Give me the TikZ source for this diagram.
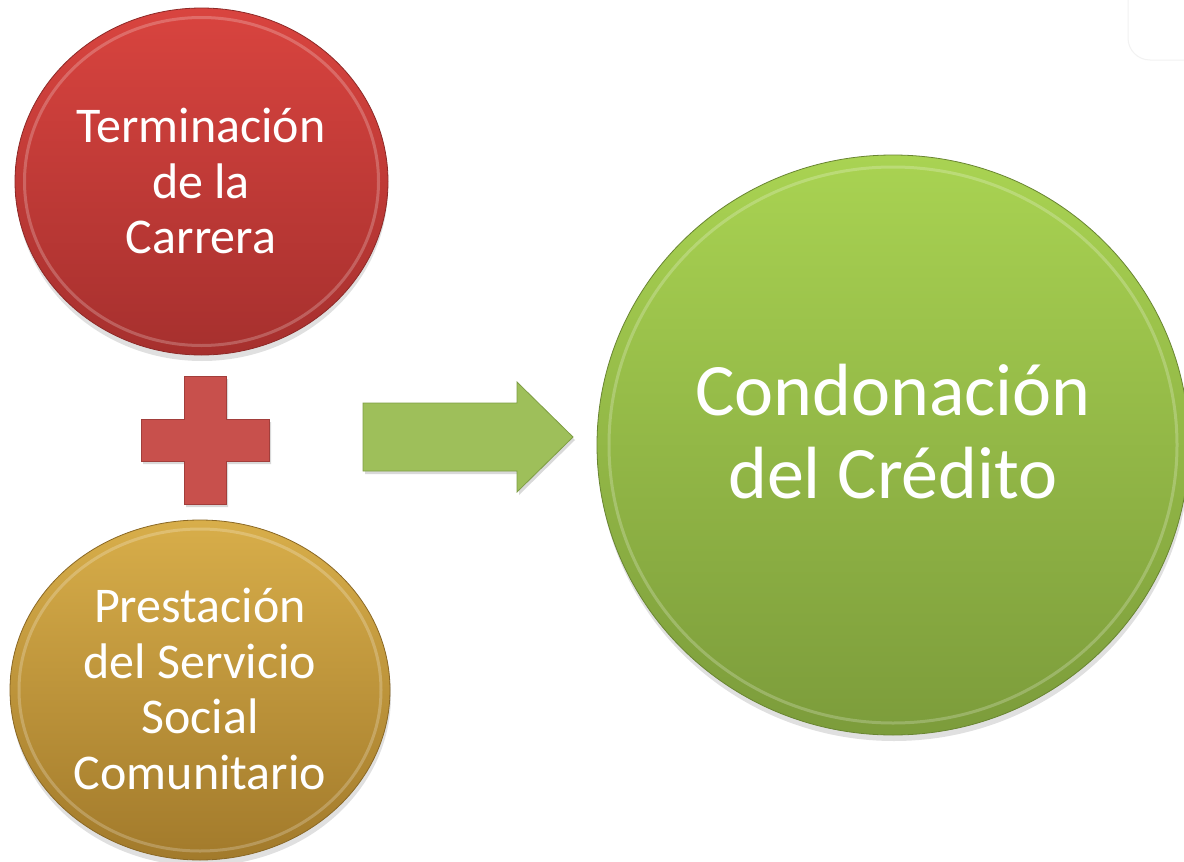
\documentclass[tikz,border=0pt]{standalone}
\usepackage{fontspec}
\setmainfont{Carlito}
\usetikzlibrary{shapes.geometric}
\definecolor{redTop}{HTML}{D9443F}
\definecolor{redBot}{HTML}{A6302E}
\definecolor{goldTop}{HTML}{D8AE4A}
\definecolor{goldBot}{HTML}{A27A2B}
\definecolor{greenTop}{HTML}{A9D352}
\definecolor{greenBot}{HTML}{7C9C3B}
\definecolor{plusFill}{HTML}{C8504C}
\definecolor{plusEdge}{HTML}{A23E3B}
\definecolor{arrFill}{HTML}{9EBF5A}
\definecolor{arrEdge}{HTML}{7E9D44}
\tikzset{
  ball/.style={ellipse, inner sep=0pt, draw=#1Bot!85!black, line width=0.8pt,
    top color=#1Top, bottom color=#1Bot},
  rim/.style={draw=white, opacity=0.22, line width=3pt},
  shadowball/.style={fill=black, opacity=0.12},
  label/.style={text=white, align=center, inner sep=0pt},
}
\begin{document}
\begin{tikzpicture}[x=1pt,y=-1pt]
\useasboundingbox (0,0) rectangle (1184,862);
\fill[white] (0,0) rectangle (1184,862);
% faint rounded shape top right
\draw[black!5, line width=1pt, rounded corners=22pt] (1128,-30) -- (1128,60) -- (1220,60);
% shadows
\fill[shadowball] (202,187) ellipse [x radius=186, y radius=174];
\fill[shadowball] (201,696) ellipse [x radius=190, y radius=170];
\fill[shadowball] (894,451) ellipse [x radius=296, y radius=290];
% balls
\node[ball=red, minimum width=373pt, minimum height=347pt] (carrera) at (201.5,181.5) {};
\draw[rim] (201.5,181.5) ellipse [x radius=177, y radius=164];
\node[ball=gold, minimum width=380pt, minimum height=340pt] (servicio) at (200,690) {};
\draw[rim] (200,690) ellipse [x radius=181, y radius=161];
\node[ball=green, minimum width=592pt, minimum height=580pt] (credito) at (893,445) {};
\draw[rim] (893,445) ellipse [x radius=284, y radius=278];
% texts
\node[label, font=\fontsize{50}{55.5}\selectfont] (t1) at (201,181) {Terminación\\de la\\Carrera};
\node[label, font=\fontsize{50}{55.5}\selectfont] (t2) at (200,689) {Prestación\\del Servicio\\Social\\Comunitario};
\node[label, font=\fontsize{74}{83}\selectfont] (t3) at (893,432) {Condonación\\del Crédito};
% plus sign
\fill[black, opacity=0.15] (186,379) -- (228,379) -- (228,422) -- (271,422) -- (271,464) -- (228,464) -- (228,507) -- (186,507) -- (186,464) -- (143,464) -- (143,422) -- (186,422) -- cycle;
\draw[plusEdge, fill=plusFill, line width=0.8pt] (184,376) -- (226,376) -- (226,419) -- (269,419) -- (269,461) -- (226,461) -- (226,504) -- (184,504) -- (184,461) -- (141,461) -- (141,419) -- (184,419) -- cycle;
% arrow
\fill[black, opacity=0.15] (365,406) -- (519,406) -- (519,385) -- (575,440) -- (519,495) -- (519,474) -- (365,474) -- cycle;
\draw[arrEdge, fill=arrFill, line width=0.8pt] (363,403) -- (517,403) -- (517,382) -- (573,437) -- (517,492) -- (517,471) -- (363,471) -- cycle;
\end{tikzpicture}
\end{document}
